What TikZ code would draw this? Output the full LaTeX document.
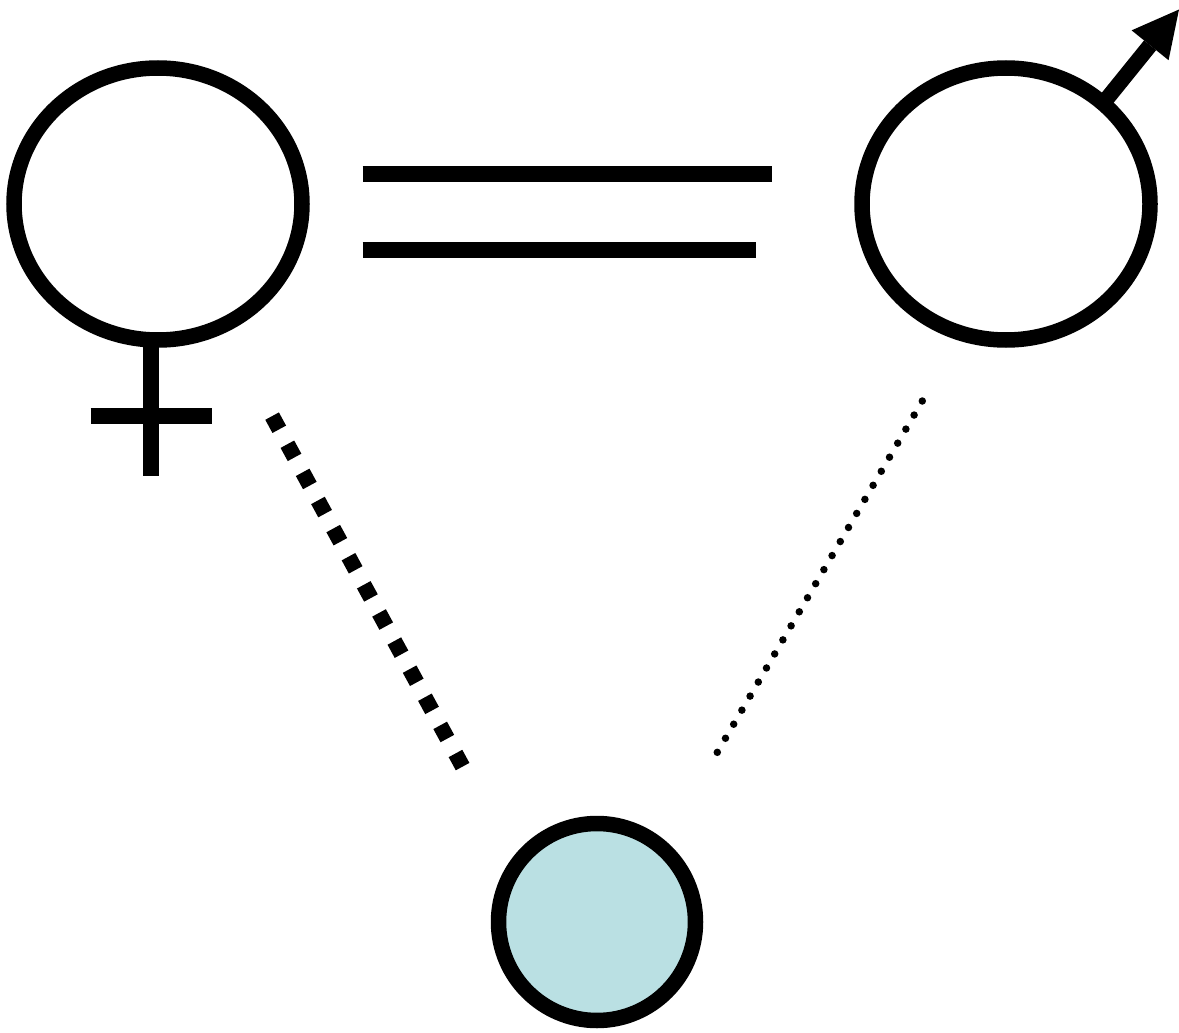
\documentclass[tikz,border=0pt]{standalone}
\usetikzlibrary{shapes.geometric,arrows.meta}
\definecolor{paleblue}{RGB}{186,224,227}
\tikzset{
  symring/.style={draw=black, line width=15.5pt, ellipse, inner sep=0pt, outer sep=0pt,
                  minimum width=288pt, minimum height=272pt},
  childring/.style={draw=black, line width=15.5pt, circle, inner sep=0pt, outer sep=0pt,
                  fill=paleblue, minimum size=197pt},
  bar/.style={line width=15.5pt, line cap=butt},
  thickdash/.style={line width=15.5pt, line cap=butt, dash pattern=on 15pt off 17pt},
  finedots/.style={line width=7.5pt, line cap=round, dash pattern=on 0pt off 16.27pt}
}
\begin{document}
\begin{tikzpicture}[x=1pt,y=-1pt]
\useasboundingbox (0,0) rectangle (1179,1033);
% female and male symbols
\node[symring] (f) at (158,204) {};
\node[symring] (m) at (1006,204) {};
% child
\node[childring] (c) at (597,922) {};
% female cross
\coordinate (fbot) at (151,476);
\coordinate (fl) at (90.5,416);
\coordinate (fr) at (212,416);
\draw[bar] (fbot |- f.south) -- (fbot);
\draw[bar] (fl) -- (fr);
% male arrow
\coordinate (mtip) at (1179,9.5);
\draw[bar, -{Triangle[length=46pt, width=47.5pt, line width=0pt]}] (m.46.8) -- (mtip);
% marriage lines
\coordinate (e1a) at (362.5,174);
\coordinate (e1b) at (771.5,174);
\coordinate (e2a) at (362.5,250);
\coordinate (e2b) at (756,250);
\draw[bar] (e1a) -- (e1b);
\draw[bar] (e2a) -- (e2b);
% descent lines
\coordinate (da) at (272.1,416.1);
\coordinate (db) at (462.6,766.6);
\draw[thickdash] (da) -- (db);
\coordinate (pa) at (922.3,401);
\coordinate (pb) at (717.0,752.8);
\draw[finedots] (pa) -- (pb);
\end{tikzpicture}
\end{document}
